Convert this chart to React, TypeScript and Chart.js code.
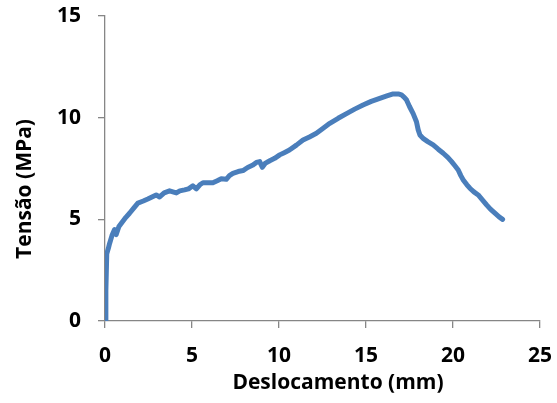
import React, { useEffect, useRef } from "react";
import { Chart, registerables } from "chart.js";

Chart.register(...registerables);

const deslocamento = [
  0, 0.05, 0.1, 0.2, 0.26, 0.4, 0.55, 0.64, 0.8, 0.93, 1.2, 1.41, 1.65, 1.89, 2.2, 2.46, 2.7, 2.94, 3.14, 3.4,
  3.71, 3.9, 4.1, 4.3, 4.57, 4.8, 5.05, 5.25, 5.45, 5.63, 5.9, 6.2, 6.45, 6.68, 6.97, 7.15, 7.35, 7.65, 7.93, 8.2,
  8.5, 8.7, 8.89, 9.04, 9.2, 9.47, 9.75, 10.04, 10.3, 10.6, 11.0, 11.38, 11.75, 12.15, 12.5, 12.92, 13.4, 13.88,
  14.35, 14.83, 15.3, 15.79, 16.2, 16.56, 16.85, 17.04, 17.2, 17.33, 17.5, 17.71, 17.9, 18.0, 18.1, 18.28, 18.55,
  18.86, 19.15, 19.44, 19.7, 19.92, 20.1, 20.3, 20.45, 20.59, 20.8, 20.97, 21.2, 21.45, 21.7, 21.93, 22.15, 22.41,
  22.65, 22.85,
];
const tensao = [
  0, 1.5, 3.3, 3.6, 3.8, 4.2, 4.5, 4.25, 4.65, 4.8, 5.1, 5.3, 5.55, 5.8, 5.9, 6.0, 6.1, 6.2, 6.1, 6.3,
  6.4, 6.35, 6.3, 6.4, 6.45, 6.5, 6.65, 6.5, 6.7, 6.8, 6.8, 6.8, 6.9, 7.0, 6.97, 7.15, 7.26, 7.35, 7.4, 7.55,
  7.67, 7.8, 7.84, 7.56, 7.75, 7.88, 8.0, 8.17, 8.28, 8.41, 8.65, 8.9, 9.05, 9.23, 9.45, 9.72, 9.97, 10.2,
  10.42, 10.62, 10.8, 10.95, 11.07, 11.17, 11.17, 11.12, 11.0, 10.87, 10.55, 10.2, 9.8, 9.4, 9.15, 8.98, 8.82,
  8.66, 8.45, 8.25, 8.05, 7.84, 7.65, 7.43, 7.15, 6.94, 6.7, 6.53, 6.35, 6.2, 5.95, 5.71, 5.5, 5.3,
  5.12, 5.0,
];

const xTitle = "Deslocamento (mm)";
const yTitle = "Tensão (MPa)";
const xMin = 0, xMax = 25, xStep = 5;
const yMin = 0, yMax = 15, yStep = 5;

const FONT = "'Open Sans', Lato, sans-serif";
const AXIS = "#868686";

export default function App() {
  const ref = useRef<HTMLCanvasElement | null>(null);
  useEffect(() => {
    if (!ref.current) return;
    const titles = {
      id: "axisTitles",
      afterDraw(chart: any) {
        const ctx = chart.ctx;
        ctx.save();
        ctx.fillStyle = "#000";
        ctx.font = `bold 21px ${FONT}`;
        ctx.textAlign = "center";
        ctx.textBaseline = "middle";
        ctx.fillText(xTitle, 338, 383);
        ctx.translate(25, 189);
        ctx.rotate(-Math.PI / 2);
        ctx.fillText(yTitle, 0, 0);
        ctx.restore();
      },
    };
    const chart = new Chart(ref.current, {
      type: "scatter",
      data: {
        datasets: [
          {
            data: deslocamento.map((x, i) => ({ x, y: tensao[i] })),
            showLine: true,
            borderColor: "#4a7ebb",
            backgroundColor: "#4a7ebb",
            borderWidth: 5,
            pointRadius: 0,
            borderCapStyle: "round",
            borderJoinStyle: "round",
            tension: 0,
          },
        ],
      },
      options: {
        animation: false,
        responsive: true,
        maintainAspectRatio: false,
        layout: { padding: { left: 0, right: 17, top: 16, bottom: 0 } },
        plugins: { legend: { display: false }, tooltip: { enabled: false } },
        scales: {
          x: {
            type: "linear",
            min: xMin,
            max: xMax,
            ticks: { stepSize: xStep, color: "#000", padding: 15, font: { family: FONT, size: 21, weight: "bold" } },
            grid: { drawOnChartArea: false, drawTicks: true, tickLength: 7, color: AXIS, lineWidth: 1.3 },
            border: { color: AXIS, width: 1.3 },
            afterFit: (s: any) => { s.height = 82; s.paddingLeft = 0; s.paddingRight = 0; },
          },
          y: {
            type: "linear",
            min: yMin,
            max: yMax,
            ticks: { stepSize: yStep, color: "#000", padding: 17, font: { family: FONT, size: 21, weight: "bold" } },
            grid: { drawOnChartArea: false, drawTicks: true, tickLength: 7, color: AXIS, lineWidth: 1.3 },
            border: { color: AXIS, width: 1.3 },
            afterFit: (s: any) => { s.width = 105; s.paddingTop = 0; s.paddingBottom = 0; },
          },
        },
      } as any,
      plugins: [titles],
    });
    return () => chart.destroy();
  }, []);
  return (
    <div style={{ position: "fixed", left: 0, top: 0, width: 557, height: 403, background: "#fff" }}>
      <canvas ref={ref} />
    </div>
  );
}
